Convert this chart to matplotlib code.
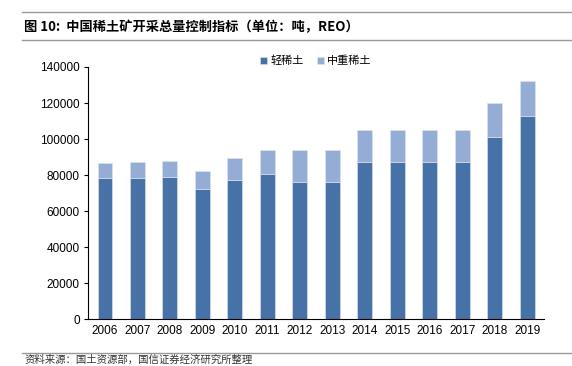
import matplotlib.pyplot as plt
import numpy as np
from matplotlib.lines import Line2D

plt.rcParams['font.family'] = ['Noto Sans CJK SC', 'DejaVu Sans']

# Data (tons REO)
years = ['2006', '2007', '2008', '2009', '2010', '2011', '2012', '2013',
         '2014', '2015', '2016', '2017', '2018', '2019']
light = [78600, 78500, 78700, 72300, 77000, 80400, 75900, 75900,
         87100, 87100, 87100, 87100, 100850, 112850]
heavy = [8320, 8520, 8920, 10020, 12200, 13400, 17900, 17900,
         17900, 17900, 17900, 17900, 19150, 19150]

c_light = '#4672A8'
c_heavy = '#95ADD4'

fig = plt.figure(figsize=(5.72, 3.66), dpi=100)
ax = fig.add_axes([0.154, 0.128, 0.797, 0.689])

x = np.arange(len(years))
ax.bar(x, light, width=0.46, color=c_light, edgecolor='#dfe6f0', linewidth=0.4, label='轻稀土')
ax.bar(x, heavy, width=0.46, bottom=light, color=c_heavy, edgecolor='#dfe6f0', linewidth=0.4, label='中重稀土')

ax.set_xlim(-0.52, len(years) - 0.48)
ax.set_ylim(0, 140000)
ax.set_yticks(np.arange(0, 140001, 20000))
ax.set_xticks(x)
ax.set_xticklabels(years)
for lab in ax.get_xticklabels() + ax.get_yticklabels():
    lab.set_family(['Liberation Sans', 'DejaVu Sans'])
    lab.set_fontsize(8.5)
ax.tick_params(axis='x', length=0, pad=4)
ax.tick_params(axis='y', length=3, width=0.8, pad=3)
for s in ['top', 'right']:
    ax.spines[s].set_visible(False)
for s in ['left', 'bottom']:
    ax.spines[s].set_color('black')
    ax.spines[s].set_linewidth(0.8)

ax.legend(loc='upper center', bbox_to_anchor=(0.5, 1.085), ncol=2, frameon=False,
          fontsize=8, handlelength=0.6, handleheight=0.6, handletextpad=0.3,
          columnspacing=1.2)

# header / footer
fig.add_artist(Line2D([0.038, 1.0], [1 - 12 / 366, 1 - 12 / 366], color='#999999', lw=1))
fig.add_artist(Line2D([0.038, 1.0], [1 - 40 / 366, 1 - 40 / 366], color='#999999', lw=1))
fig.text(0.042, 1 - 27 / 366, '图 10:  中国稀土矿开采总量控制指标（单位：吨，REO）',
         fontsize=9.5, fontweight='bold', va='center', ha='left')
fig.add_artist(Line2D([0.038, 1.0], [1 - 353 / 366, 1 - 353 / 366], color='#999999', lw=1))
fig.text(0.042, 1 / 366, '资料来源：国土资源部，国信证券经济研究所整理',
         fontsize=7.5, va='bottom', ha='left', color='#333333')

fig.savefig('out.png', dpi=100)
